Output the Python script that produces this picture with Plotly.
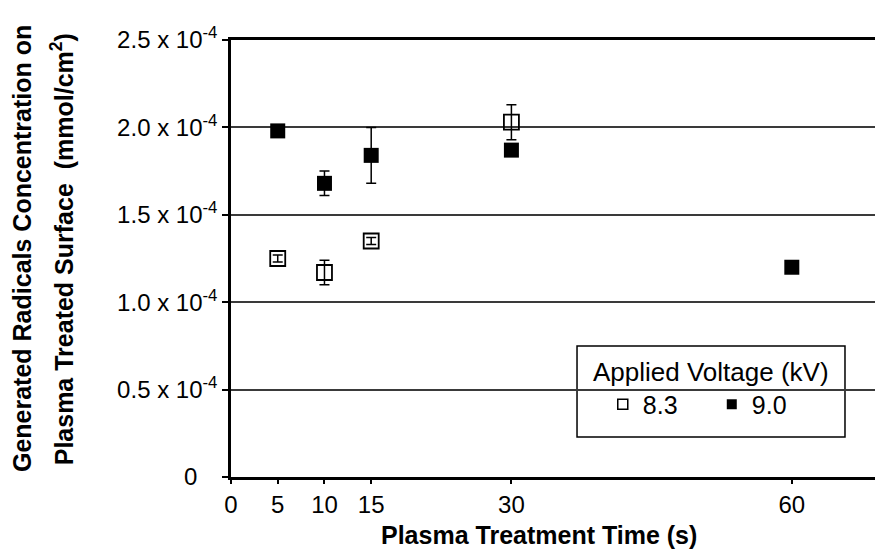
import plotly.graph_objects as go

# ---- data ----
time_83 = [5, 10, 15, 30]
conc_83 = [1.25e-4, 1.17e-4, 1.35e-4, 2.03e-4]
err_83 = [0.02e-4, 0.07e-4, 0.02e-4, 0.10e-4]

time_90 = [5, 10, 15, 30, 60]
conc_90 = [1.98e-4, 1.68e-4, 1.84e-4, 1.87e-4, 1.20e-4]
err_90 = [0.02e-4, 0.07e-4, 0.16e-4, 0.02e-4, 0.02e-4]

x_ticks = [0, 5, 10, 15, 30, 60]
y_ticks = [0, 0.5e-4, 1.0e-4, 1.5e-4, 2.0e-4, 2.5e-4]
y_ticktext = ["0&nbsp;&nbsp;&nbsp;", "0.5 x 10<sup>-4</sup>", "1.0 x 10<sup>-4</sup>",
              "1.5 x 10<sup>-4</sup>", "2.0 x 10<sup>-4</sup>", "2.5 x 10<sup>-4</sup>"]

series_names = ["8.3", "9.0"]
legend_title = "Applied Voltage (kV)"
x_title = "Plasma Treatment Time (s)"
y_title_1 = "Generated Radicals Concentration on"
y_title_2 = "Plasma Treated Surface  (mmol/cm<sup>2</sup>)"

FONT = "Liberation Sans, Arial, sans-serif"

fig = go.Figure()

fig.add_trace(go.Scatter(
    x=time_83, y=conc_83, mode="markers", showlegend=False,
    marker=dict(symbol="square-open", size=15, color="black", line=dict(width=1.8, color="black")),
    error_y=dict(type="data", array=err_83, visible=True, color="black", thickness=1.5, width=5),
))
fig.add_trace(go.Scatter(
    x=time_90, y=conc_90, mode="markers", showlegend=False,
    marker=dict(symbol="square", size=15, color="black"),
    error_y=dict(type="data", array=err_90, visible=True, color="black", thickness=1.5, width=5),
))
# legend entries (smaller symbols as in the reference)
fig.add_trace(go.Scatter(
    x=[None], y=[None], mode="markers", name=series_names[0],
    marker=dict(symbol="square-open", size=10, color="black", line=dict(width=1.5, color="black")),
))
fig.add_trace(go.Scatter(
    x=[None], y=[None], mode="markers", name=series_names[1],
    marker=dict(symbol="square", size=10, color="black"),
))

fig.update_layout(
    width=875, height=553,
    margin=dict(l=231, r=0, t=40, b=76),
    paper_bgcolor="white", plot_bgcolor="white",
    font=dict(family=FONT, size=24, color="black"),
    showlegend=True,
    legend=dict(
        orientation="h",
        x=0.745, xanchor="center", y=0.296, yanchor="top",
        bgcolor="rgba(0,0,0,0)", borderwidth=0,
        title=dict(text=legend_title, side="top center", font=dict(size=26)),
        font=dict(size=25),
        indentation=12,
        entrywidth=52,
    ),
    xaxis=dict(
        range=[0, 68.9], tickvals=x_ticks, ticktext=[str(v) for v in x_ticks],
        showline=True, linecolor="black", linewidth=2.5, mirror=True,
        ticks="outside", ticklen=4, tickwidth=1.5, tickcolor="black",
        showgrid=False, zeroline=False,
        tickfont=dict(size=24),
    ),
    yaxis=dict(
        range=[0, 2.5e-4], tickvals=y_ticks, ticktext=y_ticktext,
        showline=True, linecolor="black", linewidth=2.5,
        ticks="outside", ticklen=6, tickwidth=1.5, tickcolor="black",
        showgrid=True, gridcolor="#3a3a3a", gridwidth=1.5, zeroline=False,
        tickfont=dict(size=24),
    ),
    shapes=[
        dict(type="rect", xref="paper", yref="paper",
             x0=0.5373, x1=0.9534, y0=0.0915, y1=0.2998,
             line=dict(color="black", width=1.5), fillcolor="white", layer="below"),
    ],
    annotations=[
        dict(text="<b>" + x_title + "</b>", xref="paper", yref="paper",
             x=0.4775, y=-0.1327, xanchor="center", yanchor="middle",
             showarrow=False, font=dict(size=25)),
        dict(text="<b>" + y_title_1 + "</b>", xref="paper", yref="paper",
             x=-0.3245, y=0.5217, xanchor="center", yanchor="middle", textangle=-90,
             showarrow=False, font=dict(size=25)),
        dict(text="<b>" + y_title_2 + "</b>", xref="paper", yref="paper",
             x=-0.262, y=0.5217, xanchor="center", yanchor="middle", textangle=-90,
             showarrow=False, font=dict(size=25)),
    ],
)

fig.write_html("out.html")
